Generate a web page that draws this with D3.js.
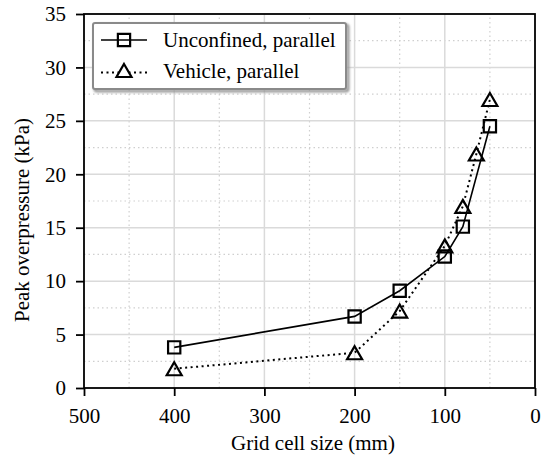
<!DOCTYPE html>
<html>
<head>
<meta charset="utf-8">
<script src="https://cdn.jsdelivr.net/npm/d3@7"></script>
<style>
  html, body { margin: 0; padding: 0; background: #fff; }
  svg { display: block; font-family: "Liberation Serif", "Times New Roman", serif; }
</style>
</head>
<body>
<svg id="chart" width="548" height="461"></svg>
<script>
// Grid cell size (mm) for each simulation set
const unconfinedSize = [400, 200, 150, 100, 80, 50];
const unconfinedPeak = [3.8, 6.7, 9.1, 12.3, 15.1, 24.5];
const vehicleSize = [400, 200, 150, 100, 80, 65, 50];
const vehiclePeak = [1.8, 3.3, 7.2, 13.3, 17.0, 21.9, 27.0];

const xTicks = [500, 400, 300, 200, 100, 0];
const yTicks = [0, 5, 10, 15, 20, 25, 30, 35];
const xMinor = [450, 350, 250, 150, 50];
const yMinor = [2.5, 7.5, 12.5, 17.5, 22.5, 27.5, 32.5];

const seriesNames = ["Unconfined, parallel", "Vehicle, parallel"];

const FONT = "'Liberation Serif', 'Times New Roman', serif";
const FS = 21;

const margin = { left: 84, right: 13, top: 14, bottom: 73 };
const W = 548, H = 461;
const svg = d3.select("#chart");

const x = d3.scaleLinear().domain([500, 0]).range([margin.left, W - margin.right]);
const y = d3.scaleLinear().domain([0, 35]).range([H - margin.bottom, margin.top]);

const defs = svg.append("defs");
defs.append("filter").attr("id", "soft")
  .attr("x", "-10%").attr("y", "-10%").attr("width", "120%").attr("height", "130%")
  .append("feGaussianBlur").attr("stdDeviation", 1.2);

// grid: minor dotted, major solid
const grid = svg.append("g");
grid.selectAll(".vminor").data(xMinor).join("line")
  .attr("x1", d => x(d)).attr("x2", d => x(d))
  .attr("y1", y(0)).attr("y2", y(35))
  .attr("stroke", "#cfcfcf").attr("stroke-width", 1.2).attr("stroke-dasharray", "1.5,3");
grid.selectAll(".hminor").data(yMinor).join("line")
  .attr("y1", d => y(d)).attr("y2", d => y(d))
  .attr("x1", x(500)).attr("x2", x(0))
  .attr("stroke", "#cfcfcf").attr("stroke-width", 1.2).attr("stroke-dasharray", "1.5,3");
grid.selectAll(".vmajor").data(xTicks.slice(1, -1)).join("line")
  .attr("x1", d => x(d)).attr("x2", d => x(d))
  .attr("y1", y(0)).attr("y2", y(35))
  .attr("stroke", "#dadada").attr("stroke-width", 1.5);
grid.selectAll(".hmajor").data(yTicks.slice(1, -1)).join("line")
  .attr("y1", d => y(d)).attr("y2", d => y(d))
  .attr("x1", x(500)).attr("x2", x(0))
  .attr("stroke", "#dadada").attr("stroke-width", 1.5);

// axes
const xAxis = d3.axisBottom(x).tickValues(xTicks).tickSize(8).tickPadding(12).tickFormat(d3.format("d"));
const yAxis = d3.axisLeft(y).tickValues(yTicks).tickSize(8).tickPadding(10).tickFormat(d3.format("d"));

const gx = svg.append("g").attr("transform", `translate(0,${y(0)})`).call(xAxis);
const gy = svg.append("g").attr("transform", `translate(${x(500)},0)`).call(yAxis);
[gx, gy].forEach(g => {
  g.select(".domain").remove();
  g.selectAll(".tick line").attr("stroke", "#000").attr("stroke-width", 1.8);
  g.selectAll(".tick text").attr("fill", "#000").style("font-size", FS + "px")
    .style("font-family", FONT);
});

// lines
const lineGen = d3.line().x(d => x(d[0])).y(d => y(d[1]));
const uData = unconfinedSize.map((s, i) => [s, unconfinedPeak[i]]);
const vData = vehicleSize.map((s, i) => [s, vehiclePeak[i]]);

svg.append("path").datum(vData).attr("d", lineGen)
  .attr("fill", "none").attr("stroke", "#000").attr("stroke-width", 2)
  .attr("stroke-dasharray", "2,3.5");
svg.append("path").datum(uData).attr("d", lineGen)
  .attr("fill", "none").attr("stroke", "#000").attr("stroke-width", 1.6);

const sq = d3.symbol().type(d3.symbolSquare).size(150);

function triPath(cx, cy, w, h) {
  return `M${cx},${cy - h / 2}L${cx + w / 2},${cy + h / 2}L${cx - w / 2},${cy + h / 2}Z`;
}

svg.append("g").selectAll("path").data(vData).join("path")
  .attr("d", d => triPath(x(d[0]), y(d[1]), 15, 13))
  .attr("fill", "none").attr("stroke", "#000").attr("stroke-width", 2.2)
  .attr("stroke-linejoin", "miter");
svg.append("g").selectAll("path").data(uData).join("path")
  .attr("transform", d => `translate(${x(d[0])},${y(d[1])})`)
  .attr("d", sq)
  .attr("fill", "none").attr("stroke", "#000").attr("stroke-width", 2.2);

// frame
svg.append("rect")
  .attr("x", x(500)).attr("y", y(35))
  .attr("width", x(0) - x(500)).attr("height", y(0) - y(35))
  .attr("fill", "none").attr("stroke", "#000").attr("stroke-width", 1.8);

// legend
const lg = svg.append("g");
const lx = 93, ly = 23, lw = 253, lh = 66;
lg.append("rect").attr("x", lx + 2).attr("y", ly + 2).attr("width", lw).attr("height", lh)
  .attr("rx", 2).attr("fill", "none").attr("stroke", "#9a9a9a").attr("stroke-width", 3)
  .attr("filter", "url(#soft)");
lg.append("rect").attr("x", lx).attr("y", ly).attr("width", lw).attr("height", lh)
  .attr("rx", 2).attr("fill", "#fff").attr("stroke", "#8a8a8a").attr("stroke-width", 2);

const rows = [40, 70.5];
// Unconfined entry
lg.append("line").attr("x1", 101).attr("x2", 147).attr("y1", rows[0]).attr("y2", rows[0])
  .attr("stroke", "#000").attr("stroke-width", 1.6);
lg.append("path").attr("transform", `translate(124,${rows[0]})`).attr("d", sq)
  .attr("fill", "none").attr("stroke", "#000").attr("stroke-width", 2.2);
// Vehicle entry
lg.append("line").attr("x1", 101).attr("x2", 147).attr("y1", rows[1] + 2).attr("y2", rows[1] + 2)
  .attr("stroke", "#000").attr("stroke-width", 2).attr("stroke-dasharray", "2,3.5");
lg.append("path").attr("d", triPath(124, rows[1], 15, 13))
  .attr("fill", "#fff").attr("stroke", "#000").attr("stroke-width", 2.2);

lg.selectAll("text").data(seriesNames).join("text")
  .attr("x", 163).attr("y", (d, i) => rows[i])
  .attr("dy", "0.35em").style("font-size", FS + "px").style("font-family", FONT).attr("fill", "#000")
  .text(d => d);

// axis titles
svg.append("text").attr("x", 313).attr("y", 450)
  .attr("text-anchor", "middle").style("font-size", FS + "px").style("font-family", FONT).attr("fill", "#000")
  .text("Grid cell size (mm)");
svg.append("text")
  .attr("transform", `translate(29,220) rotate(-90)`)
  .attr("text-anchor", "middle").style("font-size", FS + "px").style("font-family", FONT).attr("fill", "#000")
  .text("Peak overpressure (kPa)");
</script>
</body>
</html>
